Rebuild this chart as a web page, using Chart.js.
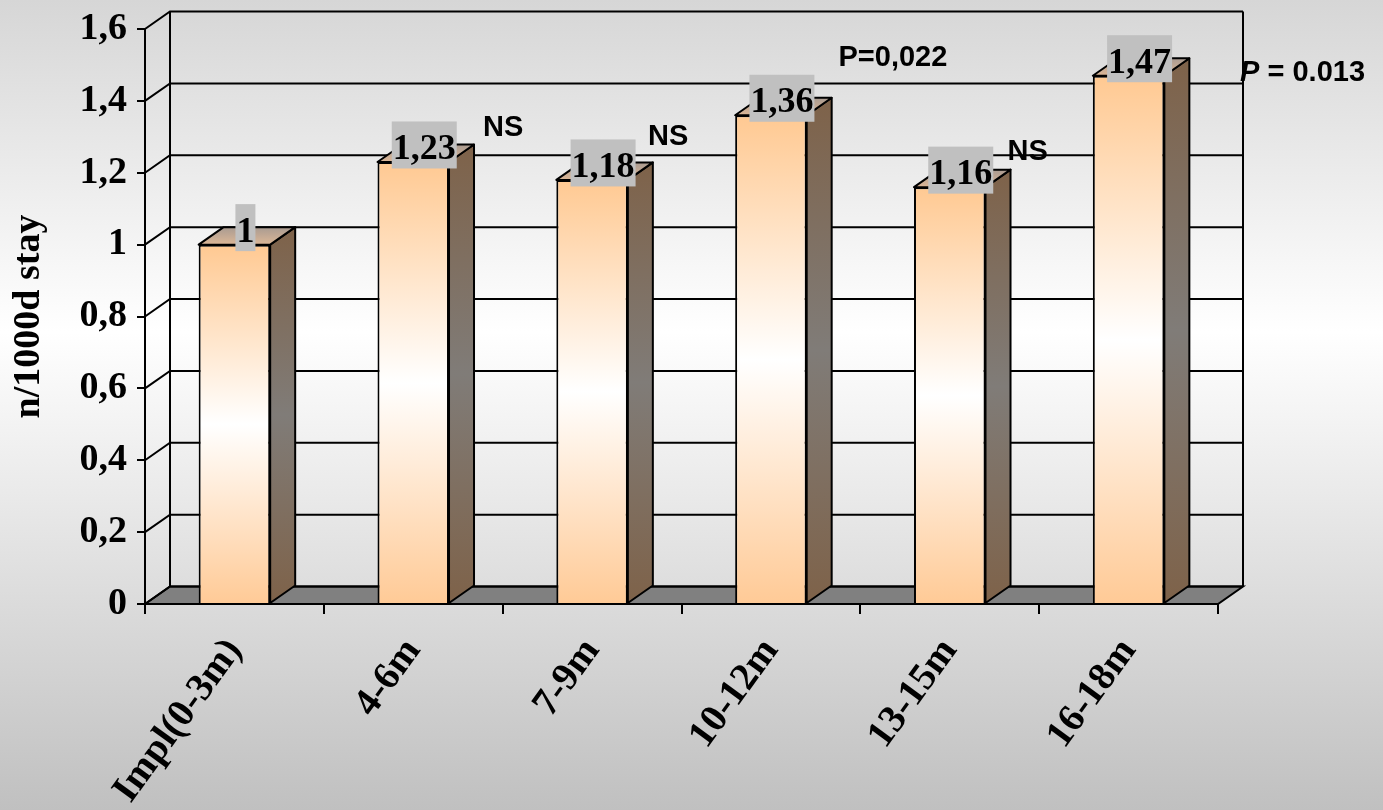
<!DOCTYPE html>
<html>
<head>
<meta charset="utf-8">
<script src="https://cdn.jsdelivr.net/npm/chart.js@4.4.1/dist/chart.umd.min.js"></script>
<style>
  html,body{margin:0;padding:0;}
  body{width:1383px;height:810px;overflow:hidden;
    background:linear-gradient(to bottom,#d6d6d6 0%,#ffffff 41%,#c0c0c0 100%);}
</style>
</head>
<body>
<canvas id="chart" width="1383" height="810"></canvas>
<script>
// data
const categories = ["Impl(0-3m)","4-6m","7-9m","10-12m","13-15m","16-18m"];
const rates = [1, 1.23, 1.18, 1.36, 1.16, 1.47];
const rateLabels = ["1","1,23","1,18","1,36","1,16","1,47"];
const notes = ["", "NS", "NS", "P=0,022", "NS", "P = 0.013"];
const yMin = 0, yMax = 1.6, yStep = 0.2;

// 3d depth of the box
const DX = 25, DY = -17.5;
const SERIF = '"Liberation Serif","Times New Roman",serif';
const SANS = '"Liberation Sans",Arial,sans-serif';
// where each note sits, relative to the top of its bar
const noteShift = [null,[90,-34],[76,-43],[122,-57],[78,-35],[174,-3]];

function frontFill(c){
  const chart=c.chart;
  if(!chart.chartArea || c.raw===undefined) return '#ffca96';
  const y=chart.scales.y;
  const top=y.getPixelForValue(c.raw), bot=y.getPixelForValue(0);
  const g=chart.ctx.createLinearGradient(0,top,0,bot);
  g.addColorStop(0,'#ffc992');
  g.addColorStop(0.5,'#ffffff');
  g.addColorStop(1,'#ffca96');
  return g;
}

const box3d = {
  id:'box3d',
  beforeDatasetsDraw(chart){
    const {ctx, chartArea:a, scales:{y}} = chart;
    ctx.save();
    ctx.strokeStyle='#000';
    ctx.lineWidth=2;
    // floor
    ctx.beginPath();
    ctx.moveTo(a.left,a.bottom);
    ctx.lineTo(a.right,a.bottom);
    ctx.lineTo(a.right+DX,a.bottom+DY);
    ctx.lineTo(a.left+DX,a.bottom+DY);
    ctx.closePath();
    ctx.fillStyle='#808080';
    ctx.fill();
    ctx.stroke();
    // back wall grid + side wall diagonals
    y.ticks.forEach(t=>{
      const p=y.getPixelForValue(t.value);
      ctx.beginPath();
      ctx.moveTo(a.left,p);
      ctx.lineTo(a.left+DX,p+DY);
      ctx.lineTo(a.right+DX,p+DY);
      ctx.stroke();
    });
    ctx.beginPath();
    ctx.moveTo(a.left+DX,a.top+DY); ctx.lineTo(a.left+DX,a.bottom+DY);
    ctx.moveTo(a.right+DX,a.top+DY); ctx.lineTo(a.right+DX,a.bottom+DY);
    ctx.stroke();
    ctx.restore();
  },
  afterDatasetsDraw(chart){
    const {ctx} = chart;
    const bars = chart.getDatasetMeta(0).data;
    ctx.save();
    ctx.strokeStyle='#000';
    ctx.lineWidth=2;
    ctx.lineJoin='round';
    bars.forEach((b,i)=>{
      const l=b.x-b.width/2, r=b.x+b.width/2;
      // side face
      const gs=ctx.createLinearGradient(0,b.y+DY,0,b.base);
      gs.addColorStop(0,'#7e6249');
      gs.addColorStop(0.5,'#807c78');
      gs.addColorStop(1,'#7e6249');
      ctx.beginPath();
      ctx.moveTo(r,b.y); ctx.lineTo(r+DX,b.y+DY);
      ctx.lineTo(r+DX,b.base+DY); ctx.lineTo(r,b.base);
      ctx.closePath();
      ctx.fillStyle=gs; ctx.fill(); ctx.stroke();
      // top face
      const gt=ctx.createLinearGradient(0,b.y,0,b.y+DY);
      gt.addColorStop(0,'#dcb797');
      gt.addColorStop(1,'#a99b91');
      ctx.beginPath();
      ctx.moveTo(l,b.y); ctx.lineTo(r,b.y);
      ctx.lineTo(r+DX,b.y+DY); ctx.lineTo(l+DX,b.y+DY);
      ctx.closePath();
      ctx.fillStyle=gt; ctx.fill(); ctx.stroke();
    });
    // value labels
    ctx.font='bold 36px '+SERIF;
    ctx.textAlign='center';
    ctx.textBaseline='alphabetic';
    bars.forEach((b,i)=>{
      const cx=b.x+11, cy=b.y-17;
      const w=ctx.measureText(rateLabels[i]).width+2;
      ctx.fillStyle='#c0c0c0';
      ctx.fillRect(cx-w/2,cy-23.5,w,47);
      ctx.fillStyle='#000';
      ctx.fillText(rateLabels[i],cx,cy+14);
    });
    // significance notes
    ctx.textBaseline='middle';
    bars.forEach((b,i)=>{
      const txt=notes[i];
      if(!txt) return;
      const [ox,oy]=noteShift[i];
      const cx=b.x+ox, cy=b.y+oy;
      ctx.fillStyle='#000';
      if(txt.startsWith('P = ')){
        ctx.font='italic bold 29px '+SANS;
        const w1=ctx.measureText('P').width;
        ctx.font='bold 29px '+SANS;
        const rest=txt.slice(1);
        const w2=ctx.measureText(rest).width;
        const x0=cx-(w1+w2)/2;
        ctx.textAlign='left';
        ctx.font='italic bold 29px '+SANS;
        ctx.fillText('P',x0,cy);
        ctx.font='bold 29px '+SANS;
        ctx.fillText(rest,x0+w1,cy);
      } else {
        ctx.textAlign='center';
        ctx.font='bold 29px '+SANS;
        ctx.fillText(txt,cx,cy);
      }
    });
    ctx.restore();
  }
};

new Chart(document.getElementById('chart'),{
  type:'bar',
  data:{
    labels:categories,
    datasets:[{
      data:rates,
      backgroundColor:frontFill,
      borderColor:'#000',
      borderWidth:2,
      barPercentage:0.4,
      categoryPercentage:1
    }]
  },
  options:{
    responsive:false,
    animation:false,
    devicePixelRatio:1,
    layout:{padding:{left:0,right:165,top:29,bottom:0}},
    plugins:{legend:{display:false},tooltip:{enabled:false}},
    scales:{
      x:{
        grid:{offset:true,drawOnChartArea:false,drawTicks:true,tickLength:10,color:'#000',lineWidth:2},
        border:{display:true,color:'#000',width:2},
        ticks:{color:'#000',font:{family:SERIF,weight:'bold',size:39},
          minRotation:54,maxRotation:54,autoSkip:false,padding:16},
        afterFit(s){s.height=206;s.paddingLeft=0;s.paddingRight=0;}
      },
      y:{
        min:yMin,max:yMax,
        grid:{drawOnChartArea:false,drawTicks:true,tickLength:8,color:'#000',lineWidth:2},
        border:{display:true,color:'#000',width:2},
        ticks:{stepSize:yStep,color:'#000',padding:10,
          font:{family:SERIF,weight:'bold',size:38},
          callback:v=>String(Math.round(v*10)/10).replace('.',',')},
        title:{display:true,text:'n/1000d stay',color:'#000',
          font:{family:SERIF,weight:'bold',size:38},padding:{top:6,bottom:0}},
        afterFit(s){s.width=145;s.paddingTop=0;s.paddingBottom=0;}
      }
    }
  },
  plugins:[box3d]
});
</script>
</body>
</html>
